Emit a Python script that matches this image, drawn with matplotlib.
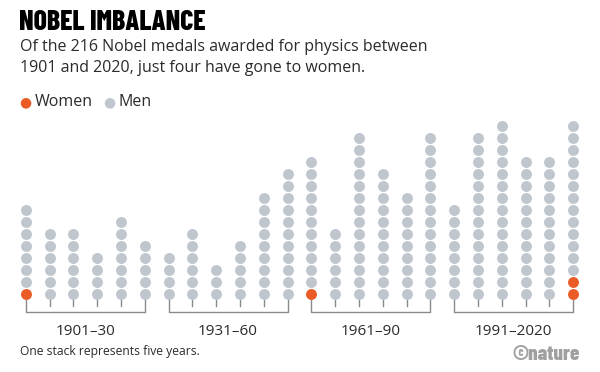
import matplotlib
matplotlib.use("Agg")
import matplotlib.pyplot as plt

# one stack = five years, 24 stacks from 1901 to 2020
women = [1, 0, 0, 0, 0, 0,
         0, 0, 0, 0, 0, 0,
         1, 0, 0, 0, 0, 0,
         0, 0, 0, 0, 0, 2]
men = [7, 6, 6, 4, 7, 5,
       4, 6, 3, 5, 9, 11,
       11, 6, 14, 11, 9, 14,
       8, 14, 15, 12, 12, 13]
periods = ["1901–30", "1931–60", "1961–90", "1991–2020"]
stacks_per_period = 6

ORANGE = "#ea5b25"
GREY = "#bfc6ce"
LINE = "#8a8a8a"
TEXT = "#2b2b2b"
NARROW = ["Barlow Condensed", "DejaVu Sans"]

plt.rcParams["font.family"] = ["Open Sans", "DejaVu Sans"]

fig = plt.figure(figsize=(6, 3.72), dpi=100)
ax = fig.add_axes([0.023, 0.1282, 0.952, 0.5806])
ax.set_xlim(-0.5, len(men) - 0.5)
ax.set_ylim(-2.5, 15.5)
ax.axis("off")

wx, wy, mx, my = [], [], [], []
for i, (w, m) in enumerate(zip(women, men)):
    for k in range(w):
        wx.append(i)
        wy.append(k)
    for k in range(w, w + m):
        mx.append(i)
        my.append(k)

ax.scatter(mx, my, s=62, color=GREY, linewidths=0, zorder=3)
ax.scatter(wx, wy, s=62, color=ORANGE, linewidths=0, zorder=3)

# brackets under each period
for g, label in enumerate(periods):
    first = g * stacks_per_period
    last = first + stacks_per_period - 1
    ax.plot([first, first, last, last], [0, -1.45, -1.45, 0],
            color=LINE, lw=1, zorder=1, clip_on=False)
    for i in range(first + 1, last):
        ax.plot([i, i], [-0.45, -0.95], color=LINE, lw=1, zorder=1, clip_on=False)
    ax.text((first + last) / 2, -3.1, label, ha="center", va="center",
            fontsize=11, color=TEXT, clip_on=False)

fig.text(19 / 600, 1 - 22 / 372, "NOBEL IMBALANCE", ha="left", va="center",
         fontsize=20, fontweight=800, color="black", family=NARROW)
fig.text(20 / 600, 1 - 47 / 372,
         "Of the 216 Nobel medals awarded for physics between",
         ha="left", va="center", fontsize=11.5, color=TEXT)
fig.text(20 / 600, 1 - 68 / 372,
         "1901 and 2020, just four have gone to women.",
         ha="left", va="center", fontsize=11.5, color=TEXT)

# legend
fig.text(19 / 600, 1 - 102 / 372, "●", ha="left", va="center",
         fontsize=10, color=ORANGE, family="DejaVu Sans")
fig.text(35 / 600, 1 - 102 / 372, "Women", ha="left", va="center",
         fontsize=11.5, color=TEXT)
fig.text(103 / 600, 1 - 102 / 372, "●", ha="left", va="center",
         fontsize=10, color=GREY, family="DejaVu Sans")
fig.text(118 / 600, 1 - 102 / 372, "Men", ha="left", va="center",
         fontsize=11.5, color=TEXT)

fig.text(20 / 600, 1 - 352 / 372, "One stack represents five years.",
         ha="left", va="center", fontsize=8.7, color=TEXT)
fig.text(580 / 600, 1 - 354 / 372, "©nature", ha="right", va="center",
         fontsize=15, fontweight=800, color="#a0a0a0", family=NARROW)

fig.savefig("out.png", dpi=100)
